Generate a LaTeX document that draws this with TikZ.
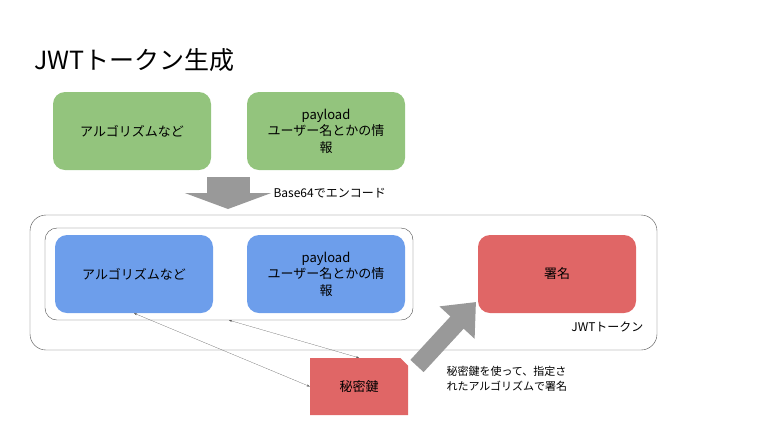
\documentclass[tikz,border=0pt]{standalone}
\usepackage{fontspec}
\setmainfont{Noto Sans CJK JP}
\usetikzlibrary{arrows.meta,shapes.misc}

\definecolor{gbox}{HTML}{93C47D}
\definecolor{bbox}{HTML}{6D9EEB}
\definecolor{rbox}{HTML}{E06666}
\definecolor{garrow}{HTML}{999999}

\begin{document}
\begin{tikzpicture}[x=1pt,y=-1pt]
				\tikzstyle{box}=[rounded corners=12pt,minimum width=158pt,minimum height=78pt,align=center,font=\fontsize{13}{16.5}\selectfont]
				\tikzstyle{gr}=[fill=gbox]
				\tikzstyle{bl}=[fill=bbox]
				\tikzstyle{rd}=[fill=rbox]
				\tikzstyle{frame}=[draw=black!70,thin,rounded corners=16pt]
				\tikzstyle{big}=[draw=garrow]
				\tikzstyle{thinline}=[draw=black!65,very thin,{Stealth[length=3pt,width=2pt]}-{Stealth[length=3pt,width=2pt]}]

				\useasboundingbox (0,0) rectangle (768,432);

				\node[anchor=west,font=\fontsize{25}{28}\selectfont] (title) at (31,60) {JWTトークン生成};

				\node[box,gr] (alg1) at (132,131) {アルゴリズムなど};
				\node[box,gr] (pay1) at (326,131) {payload\\ユーザー名とかの情\\報};

				\node[frame,minimum width=627pt,minimum height=135pt] (outer) at (343.5,282.5) {};
				\node[frame,minimum width=368pt,minimum height=92pt,rounded corners=12pt] (inner) at (229,274) {};

				\node[box,bl] (alg2) at (134,274) {アルゴリズムなど};
				\node[box,bl] (pay2) at (326,274) {payload\\ユーザー名とかの情\\報};
				\node[box,rd] (sig) at (557,274) {署名};
				\node[anchor=north east,font=\fontsize{12}{14}\selectfont] (jwt) at (647,318) {JWTトークン};

				\node[rd,chamfered rectangle,chamfered rectangle corners=north east,chamfered rectangle xsep=4pt,
					minimum width=98pt,minimum height=57pt,font=\fontsize{13}{16}\selectfont] (kagi) at (359,386.5) {秘密鍵};

				\coordinate (d1) at (228,177);
				\coordinate (d2) at (228,209);
				\draw[big,line width=43pt,-{Triangle[length=16pt,width=86pt]}] (d1) -- (d2);
				\node[anchor=west,font=\fontsize{12}{14}\selectfont] (enc) at (270,193) {Base64でエンコード};

				\coordinate (s1) at (417,366);
				\coordinate (s2) at (476,302);
				\draw[big,line width=18pt,-{Triangle[length=28pt,width=46pt]}] (s1) -- (s2);
				\node[anchor=north west,align=left,font=\fontsize{11}{15}\selectfont] (note) at (443,363) {秘密鍵を使って、指定さ\\れたアルゴリズムで署名};

				\foreach \from/\to in {kagi.west/alg2.south,kagi.north/inner.south}
				\draw [thinline] (\from) -- (\to);
			\end{tikzpicture}
\end{document}
